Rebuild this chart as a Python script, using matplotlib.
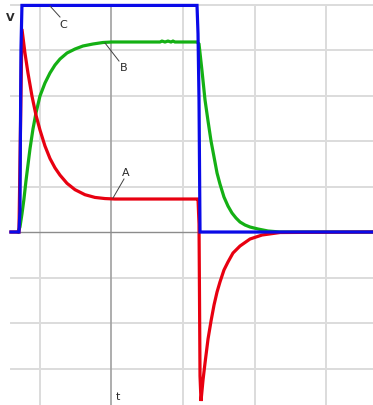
import matplotlib
matplotlib.use("Agg")
import matplotlib.pyplot as plt

# ---- data (t in grid units, V in grid units) ----
c_t = [-0.406, -0.294, -0.280, -0.266, -0.252, 2.196, 2.210, 2.224, 2.238, 4.657]
c_v = [0.0, 0.0, 0.46, 4.0, 4.98, 4.98, 4.36, 2.90, 0.0, 0.0]

b_t = [-0.308, -0.280, -0.252, -0.224, -0.196, -0.168, -0.140, -0.098, -0.056, 0.0,
       0.070, 0.140, 0.210, 0.280, 0.378, 0.490, 0.601, 0.741, 0.881, 1.007,
       1.678, 1.706, 1.748, 1.790, 1.832, 1.860, 1.888, 2.196,
       2.224, 2.266, 2.308, 2.350, 2.392, 2.434, 2.476, 2.517, 2.573, 2.629,
       2.685, 2.741, 2.797, 2.867, 2.937, 3.049, 3.189, 3.357, 4.657]
b_v = [0.0, 0.11, 0.396, 0.725, 1.121, 1.473, 1.824, 2.264, 2.615, 2.989,
       3.275, 3.495, 3.670, 3.802, 3.934, 4.022, 4.088, 4.132, 4.165, 4.176,
       4.176, 4.196, 4.176, 4.196, 4.176, 4.196, 4.176, 4.176,
       4.132, 3.538, 2.901, 2.440, 2.000, 1.648, 1.297, 1.055, 0.769, 0.571,
       0.418, 0.308, 0.220, 0.154, 0.110, 0.066, 0.022, 0.0, 0.0]

a_t = [-0.406, -0.294, -0.252, -0.210, -0.168, -0.112, -0.056, 0.0, 0.070, 0.140,
       0.210, 0.280, 0.378, 0.490, 0.629, 0.769, 0.909, 1.049, 2.196, 2.210,
       2.224, 2.231, 2.238, 2.252, 2.280, 2.308, 2.350, 2.392, 2.434, 2.476,
       2.517, 2.573, 2.629, 2.699, 2.797, 2.937, 3.105, 3.357, 4.657]
a_v = [0.0, 0.0, 4.462, 3.934, 3.495, 2.989, 2.571, 2.242, 1.890, 1.615,
       1.410, 1.250, 1.070, 0.930, 0.820, 0.760, 0.735, 0.725, 0.725, 0.725,
       0.176, -1.473, -3.165, -3.714, -3.253, -2.879, -2.352, -1.956, -1.604, -1.319,
       -1.099, -0.835, -0.659, -0.462, -0.308, -0.154, -0.066, -0.011, 0.0]

x_grid = [0, 1, 2, 3, 4]
y_grid = [-3, -2, -1, 1, 2, 3, 4, 5]

W, H = 373, 406
fig = plt.figure(figsize=(W / 100, H / 100), dpi=100)
ax = fig.add_axes([0, 0, 1, 1])
ax.set_xlim(-0.559, 4.657)
ax.set_ylim(-3.802, 5.121)
ax.axis("off")

light = "#dcdcdc"
dark = "#a0a0a0"
for v in y_grid:
    ax.plot([-0.406, 4.657], [v, v], color=light, lw=1.4, zorder=1)
ax.plot([-0.406, 4.657], [0, 0], color="#8c8c8c", lw=1.0, zorder=1.5)
for t in x_grid:
    ax.plot([t, t], [5.0, -3.802], color=(dark if t == 1 else light),
            lw=(1.2 if t == 1 else 1.4), zorder=1)

ax.plot(b_t, b_v, color="#14b014", lw=2.3, zorder=3, solid_joinstyle="miter")
ax.plot(a_t, a_v, color="#e80010", lw=2.3, zorder=4, solid_joinstyle="miter")
ax.plot(c_t, c_v, color="#0a0ae8", lw=2.3, zorder=5, solid_joinstyle="miter")

txt = "#2a2a2a"
ax.text(-0.42, 4.73, "V", fontsize=8, color=txt, ha="center", va="center", fontweight="bold")
ax.text(1.09, -3.60, "t", fontsize=8, color=txt, ha="center", va="center")

ax.plot([0.140, 0.280], [4.967, 4.725], color="#404040", lw=0.7, zorder=6)
ax.text(0.322, 4.571, "C", fontsize=8, color=txt, ha="center", va="center")
ax.plot([0.909, 1.105], [4.154, 3.758], color="#404040", lw=0.7, zorder=6)
ax.text(1.175, 3.626, "B", fontsize=8, color=txt, ha="center", va="center")
ax.plot([1.021, 1.175], [0.747, 1.165], color="#404040", lw=0.7, zorder=6)
ax.text(1.203, 1.319, "A", fontsize=8, color=txt, ha="center", va="center")

fig.savefig("out.png", dpi=100)
